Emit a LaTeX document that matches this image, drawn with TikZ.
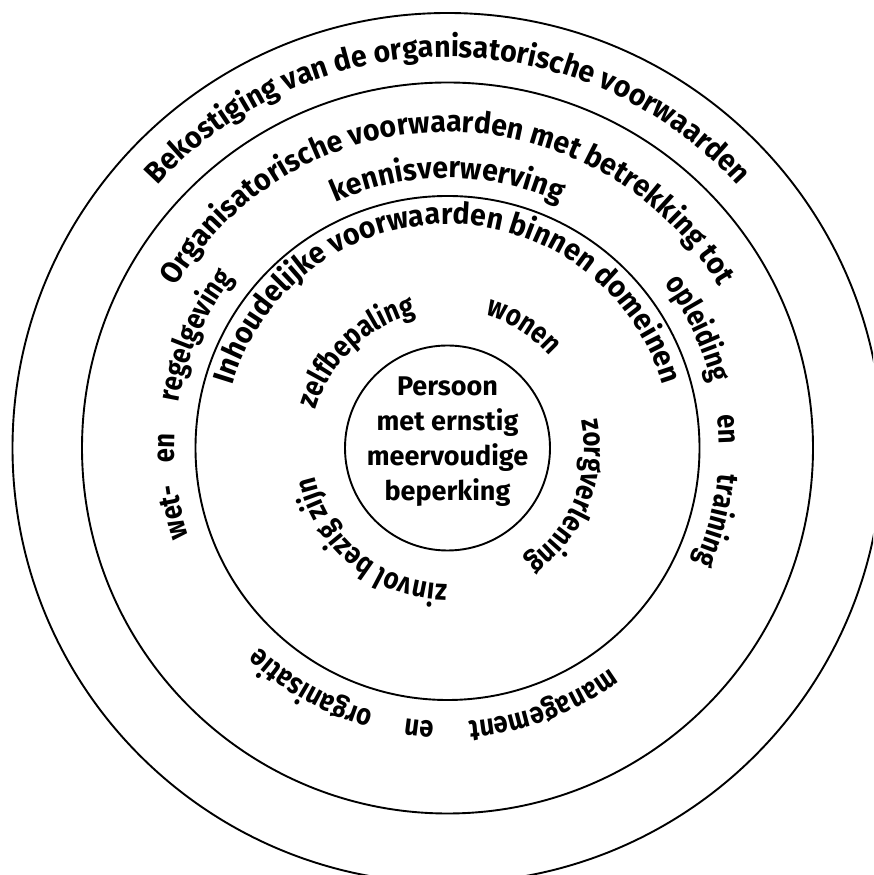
\documentclass[tikz,border=0pt]{standalone}
\usepackage{fontspec}
\setmainfont{Fira Sans}
\newfontfamily\arcfamily[FakeStretch=0.95]{Fira Sans}
\newfontfamily\wordfamily[FakeStretch=0.85]{Fira Sans}
\usepackage{tikz}
\usetikzlibrary{decorations.text}

\newcommand{\arcfont}{\arcfamily\bfseries\fontsize{30}{36}\selectfont}
\newcommand{\wordfont}{\wordfamily\bfseries\fontsize{30}{36}\selectfont}
\newcommand{\corefont}{\bfseries\fontsize{27}{35}\selectfont}

\tikzset{
    ring/.style={line width=1.9pt},
    arctext/.style={decorate, decoration={text along path, text align=center, text={|\arcfont|#1}}},
    wordtext/.style={decorate, decoration={text along path, text align=center, text={|\wordfont|#1}}},
}

% [style], radius, middle angle, text (clockwise, letters facing out)
\newcommand{\ringlabel}[4][wordtext]{%
    \path[#1={#4}, shift={(c)}] (#3+100:#2) arc[start angle=#3+100, end angle=#3-100, radius=#2];}

\begin{document}
\begin{tikzpicture}[x=1pt, y=1pt]
    \useasboundingbox (0,0) rectangle (873,875);
    \clip (0,0) rectangle (873,875);
    \coordinate (c) at (447.5,427);

    % Rings
    \foreach \r in {102.5,252,365.5,435}
        \draw[ring] (c) circle[radius=\r];

    % Core
    \node[align=center, font=\corefont, yshift=6] (persoon) at (c) {Persoon\\met ernstig\\meervoudige\\beperking};

    % Outer ring
    \ringlabel[arctext]{391}{90}{Bekostiging van de organisatorische voorwaarden}

    % Second ring
    \ringlabel[arctext]{316}{90}{Organisatorische voorwaarden met betrekking tot}
    \ringlabel[arctext]{270}{90}{kennisverwerving}
    \ringlabel{272}{25.5}{opleiding}
    \ringlabel{272}{3.9}{en}
    \ringlabel{272}{-15.1}{training}
    \ringlabel{274}{290.4}{management}
    \ringlabel{274}{264.2}{en}
    \ringlabel{274}{240.5}{organisatie}
    \ringlabel{273}{193.2}{wet-}
    \ringlabel{273}{180}{en}
    \ringlabel{273}{156}{regelgeving}

    % Third ring
    \ringlabel[arctext]{224}{90}{Inhoudelijke voorwaarden binnen domeinen}
    \ringlabel{137}{133.5}{zelfbepaling}
    \ringlabel{138}{58}{wonen}
    \ringlabel{137}{-22}{zorgverlening}
    \ringlabel{136}{231}{zinvol bezig zijn}
\end{tikzpicture}
\end{document}
